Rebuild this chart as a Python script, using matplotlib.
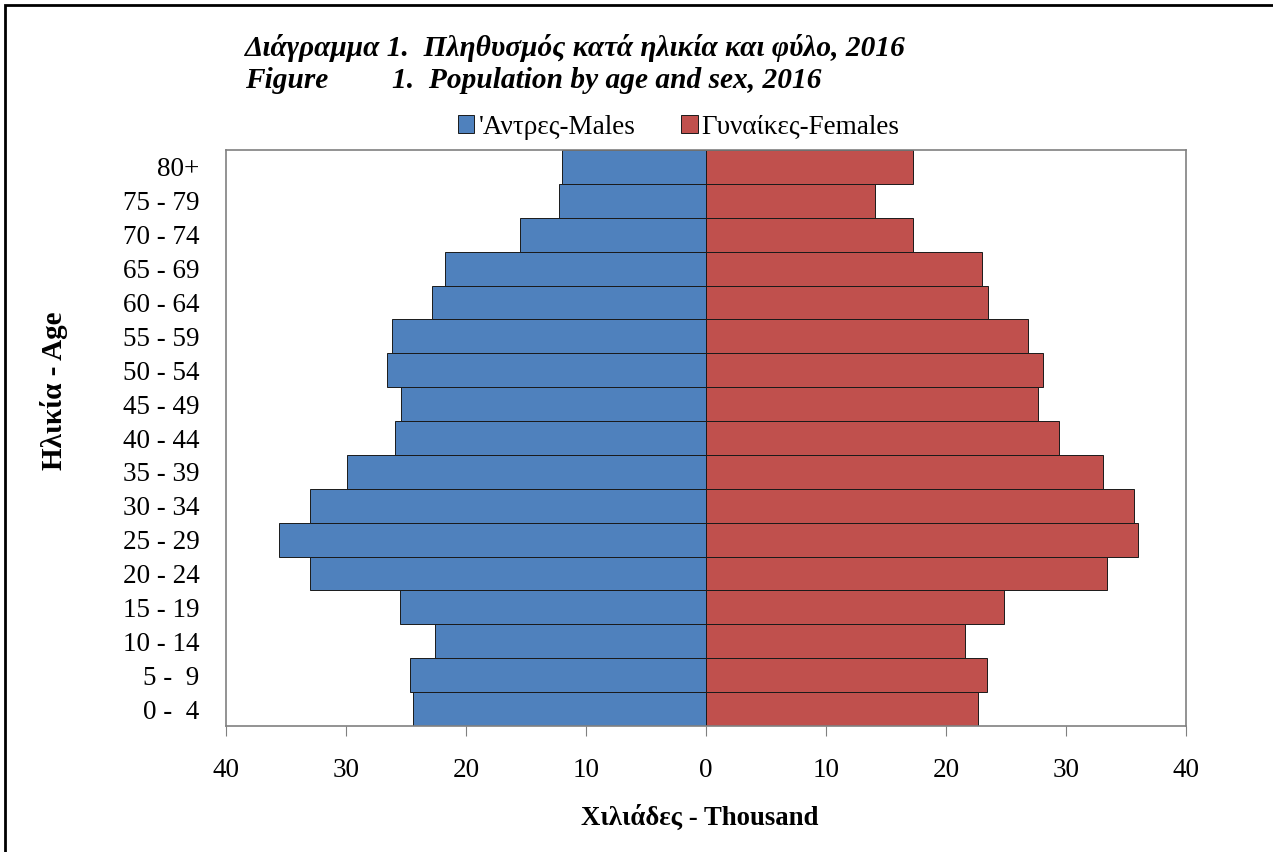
import matplotlib.pyplot as plt
from matplotlib.patches import Rectangle, Patch

# age groups, bottom to top
age_groups = ['0 -  4', '5 -  9', '10 - 14', '15 - 19', '20 - 24', '25 - 29', '30 - 34',
              '35 - 39', '40 - 44', '45 - 49', '50 - 54', '55 - 59', '60 - 64',
              '65 - 69', '70 - 74', '75 - 79', '80+']
# thousands
males = [24.4, 24.7, 22.6, 25.5, 33.0, 35.6, 33.0, 29.9, 25.9, 25.4, 26.6, 26.2,
         22.8, 21.75, 15.5, 12.25, 12.0]
females = [22.7, 23.4, 21.6, 24.8, 33.4, 36.0, 35.7, 33.1, 29.4, 27.7, 28.1, 26.8,
           23.5, 23.0, 17.25, 14.1, 17.25]
xticks = [-40, -30, -20, -10, 0, 10, 20, 30, 40]

plt.rcParams['font.family'] = ['Liberation Serif', 'DejaVu Serif']

fig = plt.figure(figsize=(12.73, 8.52), dpi=100)
ax = fig.add_axes([226/1273, 1-726/852, 960/1273, 576/852])

y = range(len(age_groups))
ax.barh(y, [-m for m in males], height=1.0, color='#4F81BD', edgecolor='#1a1a1a', linewidth=0.7)
ax.barh(y, females, height=1.0, color='#C0504D', edgecolor='#1a1a1a', linewidth=0.7)

ax.set_xlim(-40, 40)
ax.set_ylim(-0.5, len(age_groups) - 0.5)
ax.set_xticks(xticks)
ax.set_xticklabels([str(abs(t)) for t in xticks], fontsize=19.5)
ax.set_yticks(list(y))
ax.set_yticklabels(age_groups, fontsize=19.5)
ax.tick_params(axis='y', length=0, pad=19)
ax.tick_params(axis='x', length=7, color='#808080', pad=16)
for s in ax.spines.values():
    s.set_color('#808080')
    s.set_linewidth(1.2)

ax.set_xlabel('Χιλιάδες - Thousand', fontsize=19.3, fontweight='bold', labelpad=16)
ax.xaxis.label.set_x((700 - 226) / 960)
fig.text(54/1273, 1-391/852, 'Ηλικία - Age', rotation=90, fontsize=21, fontweight='bold',
         ha='center', va='center')

fig.text(245/1273, 1-48/852, 'Διάγραμμα 1.  Πληθυσμός κατά ηλικία και φύλο, 2016',
         fontsize=21.2, fontweight='bold', style='italic', va='center')
fig.text(245/1273, 1-81/852, 'Figure', fontsize=21.2, fontweight='bold', style='italic', va='center')
fig.text(392/1273, 1-81/852, '1.  Population by age and sex, 2016',
         fontsize=21.2, fontweight='bold', style='italic', va='center')

handles = [Patch(facecolor='#4F81BD', edgecolor='#1a1a1a', linewidth=0.7),
           Patch(facecolor='#C0504D', edgecolor='#1a1a1a', linewidth=0.7)]
fig.legend(handles, ["'Αντρες-Males", 'Γυναίκες-Females'], loc='center',
           bbox_to_anchor=(679/1273, 1-127/852), ncol=2, frameon=False, fontsize=19.5,
           handlelength=0.6, handleheight=0.6, handletextpad=0.15, columnspacing=1.7,
           borderpad=0)

# outer frame
fig.patches.append(Rectangle((5/1273, -0.01), 1.1, 1 - 5/852 + 0.01, transform=fig.transFigure,
                             fill=False, edgecolor='black', linewidth=2))

fig.savefig('out.png', dpi=100)
